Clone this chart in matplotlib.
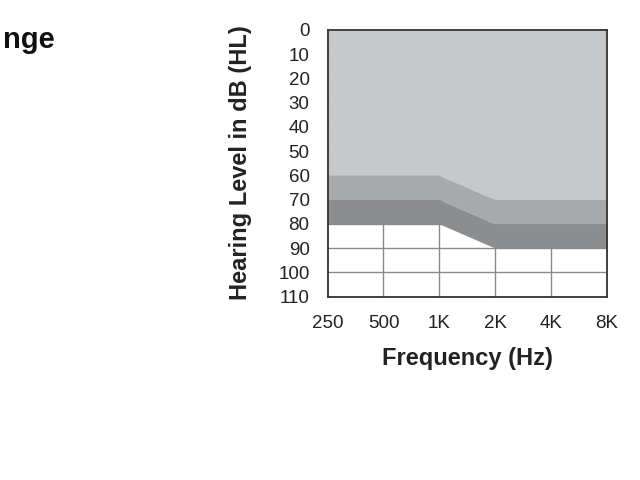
import matplotlib
matplotlib.use("Agg")
import matplotlib.pyplot as plt
import numpy as np

plt.rcParams['font.family'] = ['Liberation Sans', 'DejaVu Sans']

freq_labels = ["250", "500", "1K", "2K", "4K", "8K"]
band1_top = [60, 60, 60, 70, 70, 70]   # light gray region from 0 down to this
band2_top = [70, 70, 70, 80, 80, 80]   # medium gray
band3_top = [80, 80, 80, 90, 90, 90]   # dark gray
y_ticks = [0, 10, 20, 30, 40, 50, 60, 70, 80, 90, 100, 110]

fig = plt.figure(figsize=(6.4, 4.8), dpi=100)
ax = fig.add_axes([0.512, 0.382, 0.436, 0.556])

x = np.arange(len(freq_labels))

# grid
for xi in x[1:-1]:
    ax.axvline(xi, color='#8a8a8a', lw=1.0, zorder=1)
for yv in y_ticks[1:-1]:
    ax.axhline(yv, color='#8a8a8a', lw=1.0, zorder=1)

ax.fill_between(x, 0, band1_top, color='#c7c8ca', lw=0, zorder=2)
ax.fill_between(x, band1_top, band2_top, color='#a8a9ab', lw=0, zorder=2)
ax.fill_between(x, band2_top, band3_top, color='#8c8d8f', lw=0, zorder=2)

ax.set_xlim(0, 5)
ax.set_ylim(110, 0)
ax.set_xticks(x)
ax.set_xticklabels(freq_labels, fontsize=13.5, color='#222222')
ax.set_yticks(y_ticks)
ax.set_yticklabels([str(v) for v in y_ticks], fontsize=13.5, color='#222222')
ax.tick_params(axis='both', length=0)
ax.tick_params(axis='y', pad=13)
ax.tick_params(axis='x', pad=13)

for s in ax.spines.values():
    s.set_color('#333333')
    s.set_linewidth(1.3)
    s.set_zorder(3)

ax.set_xlabel("Frequency (Hz)", fontsize=17, fontweight='bold', color='#222222', labelpad=11)
fig.text(241/640, 1 - 163/480, "Hearing Level in dB (HL)", rotation=90, fontsize=17,
         fontweight='bold', color='#222222', ha='center', va='center')

fig.text(3/640, 1 - 48/480, "nge", fontsize=21, fontweight='bold', color='#111111',
         ha='left', va='baseline')

fig.savefig("out.png", dpi=100)
